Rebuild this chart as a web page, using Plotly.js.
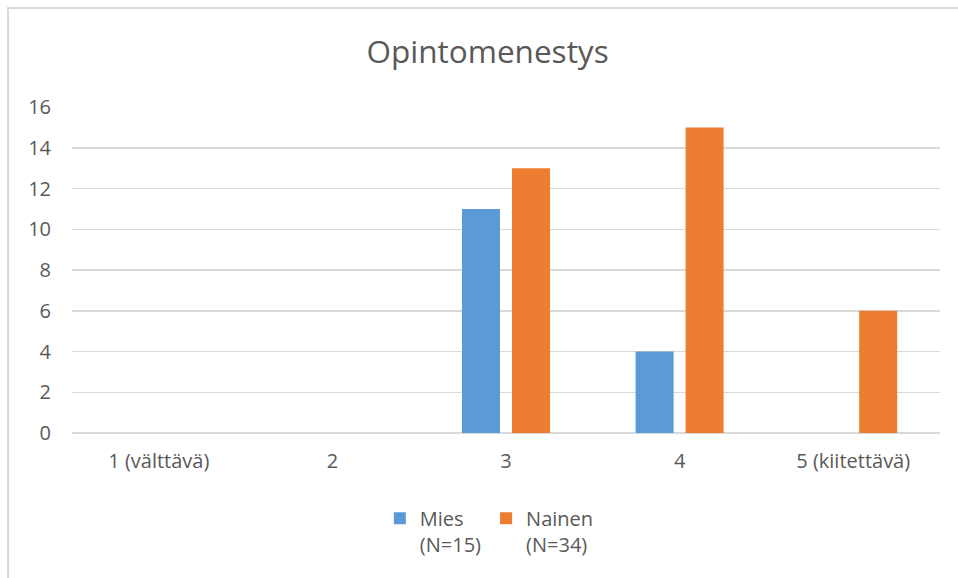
<!DOCTYPE html>
<html>
<head>
<meta charset="utf-8">
<script src="https://cdn.plot.ly/plotly-3.0.1.min.js"></script>
<style>html,body{margin:0;padding:0;background:#fff;}#chart{width:958px;height:578px;}</style>
</head>
<body>
<div id="chart"></div>
<script>
const categories = ["1 (välttävä)", "2", "3", "4", "5 (kiitettävä)"];
const miesValues = [0, 0, 11, 4, 0];
const nainenValues = [0, 0, 13, 15, 6];
const seriesNames = ["Mies<br>(N=15)", "Nainen<br>(N=34)"];
const titleText = "Opintomenestys";

const txt = "#595959";
const fontFam = "'Open Sans', 'Noto Sans', sans-serif";

const traces = [
  {type: "bar", x: categories, y: miesValues, name: seriesNames[0],
   marker: {color: "#5b9bd5", line: {width: 0}}},
  {type: "bar", x: categories, y: nainenValues, name: seriesNames[1],
   marker: {color: "#ed7d31", line: {width: 0}}}
];

const layout = {
  width: 958, height: 578,
  paper_bgcolor: "#ffffff", plot_bgcolor: "#ffffff",
  font: {family: fontFam, color: txt, size: 20},
  margin: {l: 72, r: 18, t: 107, b: 145, pad: 0, autoexpand: false},
  title: {text: titleText, font: {size: 31.5, color: txt, family: fontFam},
          x: 0.509, xref: "container", xanchor: "center",
          y: 0.91, yref: "container", yanchor: "middle"},
  barmode: "group", bargap: 0.424, bargroupgap: 0.24,
  xaxis: {type: "category", showgrid: false, showline: false, zeroline: false, automargin: false,
          ticks: "", ticklabelstandoff: 14, tickfont: {size: 20, color: txt}},
  yaxis: {range: [0, 16], dtick: 2, tick0: 0, showgrid: true, gridcolor: "#d9d9d9", gridwidth: 1.5,
          zeroline: true, zerolinecolor: "#d9d9d9", zerolinewidth: 1.5, showline: false, automargin: false,
          ticks: "", ticklabelstandoff: 20, tickfont: {size: 20, color: txt}, fixedrange: true},
  showlegend: true,
  legend: {orientation: "h", x: 0.4808, xanchor: "center", y: -0.202, yanchor: "top",
           font: {size: 20, color: txt}, valign: "top", itemwidth: 30, tracegroupgap: 0},
  shapes: [{type: "rect", xref: "paper", yref: "paper", x0: -0.0737, x1: 1.3, y0: -1, y1: 1.3037,
            line: {color: "#d9d9d9", width: 2}, fillcolor: "rgba(0,0,0,0)", layer: "below"}]
};

Plotly.newPlot("chart", traces, layout, {displayModeBar: false, staticPlot: true});
</script>
</body>
</html>
